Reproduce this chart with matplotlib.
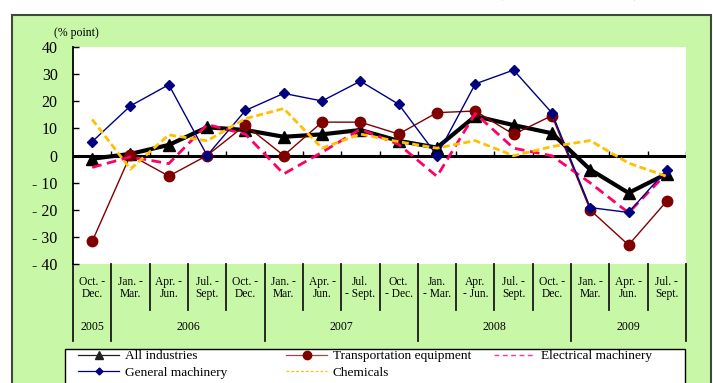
import matplotlib
matplotlib.use('Agg')
import matplotlib.pyplot as plt
from matplotlib.lines import Line2D
from matplotlib.patches import Rectangle

plt.rcParams['font.family'] = ['Liberation Serif', 'DejaVu Serif']
plt.rcParams['lines.scale_dashes'] = False

# data (contribution, % point)
quarters = ["Oct. -\nDec.",
            "Jan. -\nMar.", "Apr. -\nJun.", "Jul. -\nSept.", "Oct. -\nDec.",
            "Jan. -\nMar.", "Apr. -\nJun.", "Jul.\n- Sept.", "Oct.\n- Dec.",
            "Jan.\n- Mar.", "Apr.\n- Jun.", "Jul. -\nSept.", "Oct. -\nDec.",
            "Jan. -\nMar.", "Apr. -\nJun.", "Jul. -\nSept."]
years = ['2005', '2006', '2007', '2008', '2009']
year_quarters = [1, 4, 4, 4, 3]

all_ind = [-1.2, 0.6, 3.9, 10.4, 9.4, 6.9, 7.8, 9.4, 5.4, 2.9, 14.5, 11.2, 8.2, -5.2, -13.8, -6.7]
transport = [-31.7, 0.2, -7.6, 0.0, 11.2, 0.0, 12.3, 12.3, 7.9, 15.8, 16.4, 7.8, 14.7, -20.1, -33.0, -16.8]
electrical = [-4.4, -0.5, -3.0, 11.4, 7.9, -6.8, 1.2, 9.7, 4.1, -7.7, 15.5, 2.7, -0.1, -10.1, -21.1, -6.5]
general = [5.1, 18.3, 26.1, 0.0, 16.6, 22.9, 20.1, 27.4, 18.9, 0.0, 26.4, 31.5, 15.7, -19.2, -21.0, -5.2]
chemicals = [13.3, -5.0, 7.6, 5.4, 13.6, 17.3, 2.7, 7.9, 5.1, 2.7, 5.5, -0.1, 3.3, 5.5, -2.8, -7.7]

y_ticks = [40, 30, 20, 10, 0, -10, -20, -30, -40]
y_labels = [str(v) if v >= 0 else '- %d' % abs(v) for v in y_ticks]

GREEN = '#C8F7A8'
W, H = 713, 383

fig = plt.figure(figsize=(W / 100, H / 100), dpi=100)
fig.patch.set_facecolor('white')

# green chart area
fig.add_artist(Rectangle((11.5 / W, -0.05), (711 - 11.5) / W, (383 - 15) / H + 0.05,
                         transform=fig.transFigure, fc=GREEN, ec='#3f4a3a', lw=1.5, zorder=-1))

# title, cut off at the top of the picture (only descenders show)
fig.text(74 / W, 1 + 5 / H, 'Group Contributions to Expenditure (by industry)',
         ha='left', va='baseline', fontsize=19, fontweight='bold')

ax = fig.add_axes([73 / W, 1 - 264 / H, (686 - 73) / W, (264 - 47) / H])
ax.set_facecolor('white')
x = list(range(len(quarters)))

ax.plot(x, all_ind, color='black', lw=3, marker='^', ms=9, zorder=2)
ax.plot(x, transport, color='#800000', lw=1, marker='o', ms=7.5, zorder=3)
ax.plot(x, electrical, color='#FF0066', lw=2, ls=(0, (7, 4)), zorder=4)
ax.plot(x, general, color='#000080', lw=1, marker='D', ms=5, zorder=5)
ax.plot(x, chemicals, color='#FFC000', lw=2, ls=(0, (5, 2.5)), zorder=6)

ax.set_xlim(-0.5, len(quarters) - 0.5)
ax.set_ylim(-40, 40)
ax.axhline(0, color='black', lw=2.2, zorder=1.5)
bounds = [b - 0.5 for b in range(len(quarters) + 1)]
ax.vlines(bounds[1:], 0, 1.5, color='black', lw=1, zorder=1.5)

ax.set_xticks([])
ax.set_yticks(y_ticks)
ax.set_yticklabels(y_labels)
ax.tick_params(axis='y', direction='in', length=4, width=1, pad=11, labelsize=11.5)
for s in ['top', 'right', 'bottom']:
    ax.spines[s].set_visible(False)
ax.spines['left'].set_linewidth(1.3)

# category table under the plot
tr = ax.get_xaxis_transform()
year_bounds = [-0.5]
for n in year_quarters:
    year_bounds.append(year_bounds[-1] + n)
for b in bounds:
    low = -0.355 if b in year_bounds else -0.212
    ax.plot([b, b], [0, low], transform=tr, clip_on=False, color='#1a1a1a', lw=1.3)
for i, q in enumerate(quarters):
    ax.text(i, -0.111, q, transform=tr, ha='center', va='center', fontsize=8.3, linespacing=1.0)
for i, yr in enumerate(years):
    ax.text((year_bounds[i] + year_bounds[i + 1]) / 2, -0.289, yr, transform=tr,
            ha='center', va='center', fontsize=8.5)

fig.text(76 / W, 1 - 33 / H, '(% point)', ha='center', va='center', fontsize=8.5)

# legend
fig.add_artist(Rectangle((65 / W, -0.05), (685 - 65) / W, (383 - 349) / H + 0.05,
                         transform=fig.transFigure, fc='white', ec='black', lw=1, zorder=2))
h_all = Line2D([], [], color='#202020', lw=0.9, marker='^', ms=6)
h_gen = Line2D([], [], color='#000080', lw=0.9, marker='D', ms=3.5)
h_tr = Line2D([], [], color='#9a4a4a', lw=0.9, marker='o', ms=6, mfc='#800000', mec='#800000')
h_chem = Line2D([], [], color='#FFC000', lw=0.9, ls=(0, (2, 1.5)))
h_el = Line2D([], [], color='#FF3399', lw=1.0, ls=(0, (3.5, 2.5)))
cols = [(78, [h_all, h_gen], ['All industries', 'General machinery']),
        (286, [h_tr, h_chem], ['Transportation equipment', 'Chemicals']),
        (494, [h_el], ['Electrical machinery'])]
for cx, hs, ls in cols:
    fig.legend(hs, ls, loc='upper left', bbox_to_anchor=(cx / W, 1 - 350 / H),
               frameon=False, fontsize=9.6, handlelength=3.1, handletextpad=0.4,
               labelspacing=0.3, borderpad=0, borderaxespad=0)

fig.savefig('out.png', dpi=100)
